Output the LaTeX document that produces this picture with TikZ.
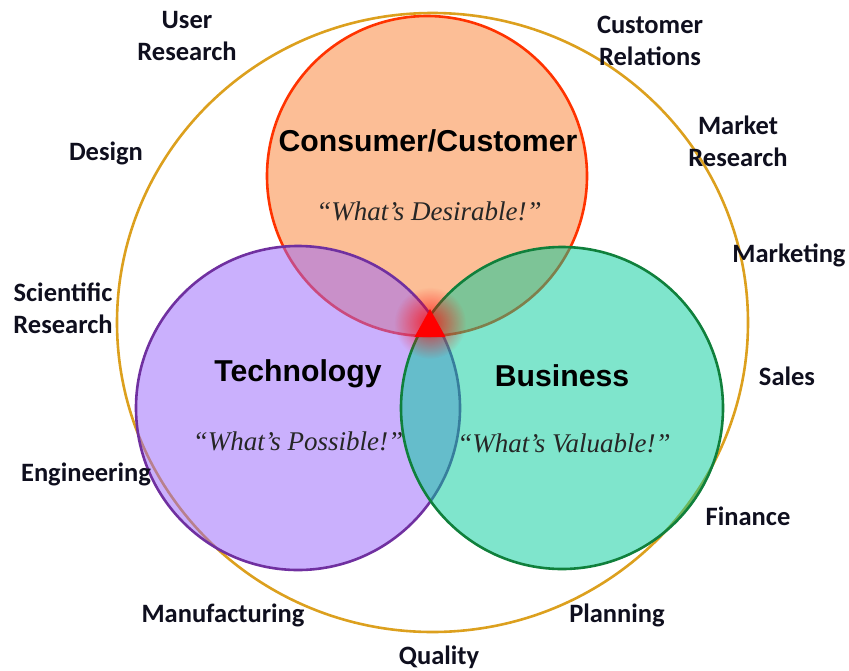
\documentclass[tikz,border=0pt]{standalone}
\usepackage{fontspec}
\setmainfont{Liberation Serif}
\newfontfamily\lblfont{Carlito}
\newfontfamily\ttlfont{Liberation Sans}
\usetikzlibrary{fadings}
\definecolor{consfill}{RGB}{249,125,45}
\definecolor{consline}{RGB}{255,51,0}
\definecolor{techfill}{RGB}{150,98,252}
\definecolor{techline}{RGB}{112,48,160}
\definecolor{busfill}{RGB}{0,204,153}
\definecolor{busline}{RGB}{16,128,60}
\definecolor{outerline}{RGB}{220,160,30}
\definecolor{lbltext}{RGB}{15,15,30}
\tikzfading[name=glowfade, inner color=transparent!0, outer color=transparent!100]
\tikzset{
  venn/.style={line width=2.6pt, fill opacity=0.5, draw opacity=1},
  sidelabel/.style={font=\lblfont\bfseries\fontsize{26.5}{32}\selectfont, text=lbltext, align=center, inner sep=0pt},
  titlelabel/.style={font=\ttlfont\bfseries\fontsize{30.2}{34}\selectfont, text=black, inner sep=0pt},
  quotelabel/.style={font=\itshape\fontsize{27}{32}\selectfont, text=black!85, inner sep=0pt}
}
\begin{document}
\begin{tikzpicture}[x=1pt,y=-1pt]
\useasboundingbox (0,0) rectangle (849,670);
% outer ring
\draw[outerline, line width=2.6pt] (432.5,322.5) ellipse [x radius=315.5, y radius=309.5];
% three circles
\path[venn, fill=consfill, draw=consline] (427,176) circle [radius=160];
\path[venn, fill=techfill, draw=techline] (298,408) circle [radius=162];
\path[venn, fill=busfill, draw=busline] (562,408) circle [radius=161];
% glow and triangle
\fill[red, opacity=0.75, path fading=glowfade] (430,323) circle [radius=36];
\fill[red] (430,309) coordinate (apex) -- (445.5,337) -- (414.5,337) -- cycle;
% titles
\node[titlelabel] (cons) at (428,141) {Consumer/Customer};
\node[quotelabel] (consq) at (429,211) {“What’s Desirable!”};
\node[titlelabel] (tech) at (298,374) {Technology};
\node[quotelabel] (techq) at (298,441) {“What’s Possible!”};
\node[titlelabel] (bus) at (562,376) {Business};
\node[quotelabel] (busq) at (564,443) {“What’s Valuable!”};
% side labels
\node[sidelabel] (userres) at (187,36) {User\\Research};
\node[sidelabel] (design) at (106,153) {Design};
\node[sidelabel] (scires) at (63,308) {Scientific\\Research};
\node[sidelabel] (eng) at (86,474) {Engineering};
\node[sidelabel] (manu) at (223,615) {Manufacturing};
\node[sidelabel] (qual) at (439,657) {Quality};
\node[sidelabel] (plan) at (617,615) {Planning};
\node[sidelabel] (fin) at (748,516) {Finance};
\node[sidelabel] (sales) at (787,376) {Sales};
\node[sidelabel] (mkt) at (789,255) {Marketing};
\node[sidelabel] (mktres) at (738,141) {Market\\Research};
\node[sidelabel] (custrel) at (650,41) {Customer\\Relations};
\end{tikzpicture}
\end{document}
